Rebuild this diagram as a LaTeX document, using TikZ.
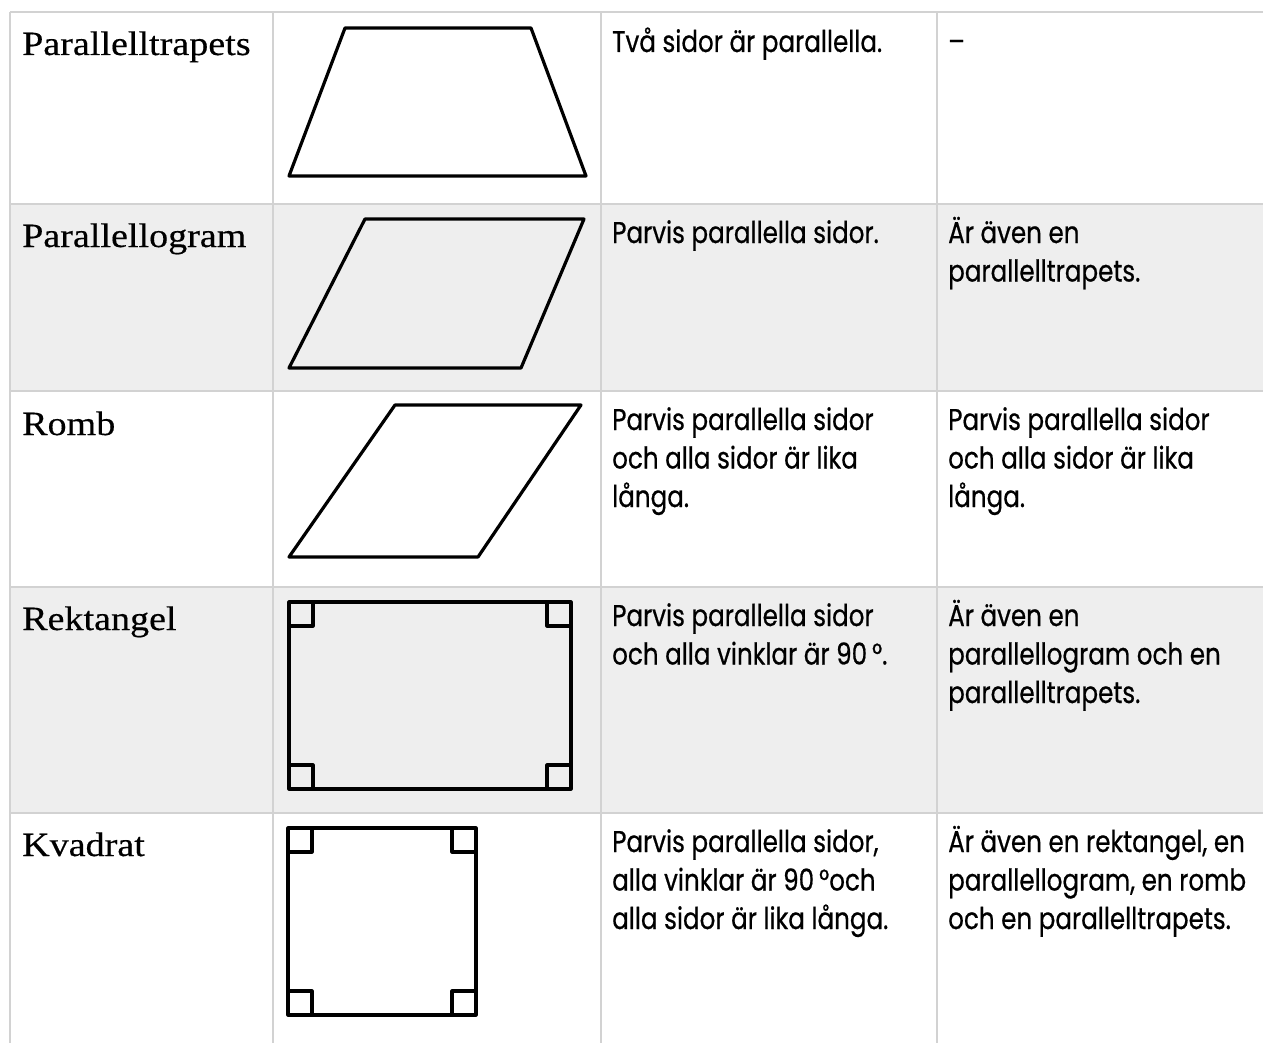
\documentclass[tikz,border=0pt]{standalone}
\usepackage{fontspec}
\setmainfont{Liberation Serif}
\newfontfamily\hdrfam[FakeStretch=1.12,FakeBold=0.4]{Liberation Serif}
\newfontfamily\bodyfam[FakeStretch=0.82,FakeBold=0.6]{Poppins}
\definecolor{gridc}{HTML}{D2D2D2}
\definecolor{rowgray}{HTML}{EEEEEE}
\tikzset{
  grid line/.style={draw=gridc, line width=1.4pt},
  shape line/.style={draw=black, line width=3.2pt, line join=round, line cap=round},
  hdr/.style={anchor=base west, inner sep=0pt, font=\hdrfam\fontsize{34}{40}\selectfont},
  body/.style={anchor=base west, inner sep=0pt, font=\bodyfam\fontsize{30}{38.5}\selectfont},
}
\newcommand{\bx}[1]{\parbox[t]{320pt}{\raggedright #1}}
\begin{document}
\begin{tikzpicture}[x=1pt,y=-1pt]
\useasboundingbox (0,0) rectangle (1263,1043);
% row shading
\fill[rowgray] (10,204) rectangle (1263,391);
\fill[rowgray] (10,587) rectangle (1263,813);
% grid
\foreach \yy in {12,204,391,587,813} \draw[grid line] (10,\yy) -- (1263,\yy);
\foreach \xx in {10,273,601,937} \draw[grid line] (\xx,12) -- (\xx,1043);
% headers
\node[hdr] (h1) at (22,55) {Parallelltrapets};
\node[hdr] (h2) at (22,247) {Parallellogram};
\node[hdr] (h3) at (22,435) {Romb};
\node[hdr] (h4) at (22,630) {Rektangel};
\node[hdr] (h5) at (22,856) {Kvadrat};
% shapes
\draw[shape line] (289,176) -- (345,28) -- (531,28) -- (586,176) -- cycle;
\draw[shape line] (289,368) -- (365,219) -- (584,219) -- (521,368) -- cycle;
\draw[shape line] (289,557) -- (395,405) -- (581,405) -- (478,557) -- cycle;
\draw[shape line] (289,602) rectangle (571,789);
\draw[shape line] (289,626) -- (313,626) -- (313,602);
\draw[shape line] (547,602) -- (547,626) -- (571,626);
\draw[shape line] (289,765) -- (313,765) -- (313,789);
\draw[shape line] (547,789) -- (547,765) -- (571,765);
\draw[shape line] (288,828) rectangle (476,1015);
\draw[shape line] (288,852) -- (312,852) -- (312,828);
\draw[shape line] (452,828) -- (452,852) -- (476,852);
\draw[shape line] (288,991) -- (312,991) -- (312,1015);
\draw[shape line] (452,1015) -- (452,991) -- (476,991);
% properties
\node[body] (p1) at (612,52) {\bx{Två sidor är parallella.}};
\node[body] (p2) at (612,243) {\bx{Parvis parallella sidor.}};
\node[body] (p3) at (612,430) {\bx{Parvis parallella sidor\\och alla sidor är lika\\långa.}};
\node[body] (p4) at (612,626) {\bx{Parvis parallella sidor\\och alla vinklar är 90\,°.}};
\node[body] (p5) at (612,852) {\bx{Parvis parallella sidor,\\alla vinklar är 90\,°och\\alla sidor är lika långa.}};
% relations
\node[body] (r1) at (948,52) {\bx{–}};
\node[body] (r2) at (948,243) {\bx{Är även en\\parallelltrapets.}};
\node[body] (r3) at (948,430) {\bx{Parvis parallella sidor\\och alla sidor är lika\\långa.}};
\node[body] (r4) at (948,626) {\bx{Är även en\\parallellogram och en\\parallelltrapets.}};
\node[body] (r5) at (948,852) {\bx{Är även en rektangel, en\\parallellogram, en romb\\och en parallelltrapets.}};
\end{tikzpicture}
\end{document}
